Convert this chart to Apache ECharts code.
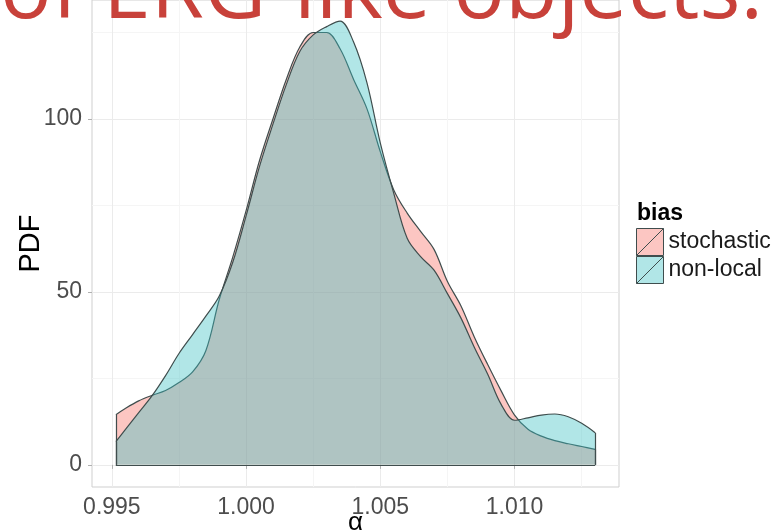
<!DOCTYPE html>
<html><head><meta charset="utf-8">
<script src="https://cdn.jsdelivr.net/npm/echarts@6/dist/echarts.min.js"></script>
<style>html,body{margin:0;padding:0;background:#fff}#c{width:775px;height:531px}</style>
</head><body><div id="c"></div>
<script>
// ---- data ----
const alphaValues = [0.99515, 0.9955, 0.9960, 0.9965, 0.9970, 0.9975, 0.9980, 0.9985, 0.9990, 0.9995,
  1.0000, 1.0005, 1.0010, 1.0015, 1.0020, 1.0025, 1.0030, 1.0035, 1.0040, 1.0045,
  1.0050, 1.0055, 1.0060, 1.0065, 1.0070, 1.0075, 1.0080, 1.0085, 1.0090, 1.0095,
  1.0100, 1.0105, 1.0110, 1.0115, 1.0120, 1.0125, 1.0130];
const stochastic = [14.5, 16.3, 18.5, 20.1, 21.5, 23.8, 26.8, 33, 47.8, 60,
  73.5, 88, 100, 111.5, 120.8, 125, 125, 120.3, 111.5, 103,
  90.5, 79.5, 72.8, 67.5, 62.3, 53, 46, 37, 29, 21.4,
  14.4, 10.3, 8.3, 7.0, 6.1, 5.3, 4.5];
const nonLocal = [6.7, 10.2, 15.1, 20, 25.8, 32.2, 37.6, 43, 48.8, 58.5,
  72, 86.3, 98.5, 110, 119.5, 124.3, 126.7, 128.3, 122.3, 110.5,
  93, 78.5, 65.5, 60.2, 56.3, 49.5, 42.5, 34, 26.2, 17.5,
  12.9, 13.6, 14.4, 14.7, 13.9, 12, 9.3];
const seriesNames = ['stochastic', 'non-local'];
const xTickValues = [0.995, 1.000, 1.005, 1.010];
const xMinorValues = [0.9975, 1.0025, 1.0075, 1.0125];
const yTickValues = [0, 50, 100];
const yMinorValues = [25, 75, 125];
const legendTitle = 'bias';
const xTitle = 'α';
const yTitle = 'PDF';
const slideTitle = 'of ERG-like objects.';

// ---- styling ----
const OUT = '#3f4d4d';
const FILLS = ['rgba(248,118,109,0.42)', 'rgba(60,192,195,0.40)'];
const FONT = 'Liberation Sans';
const XMIN = 0.99426, XMAX = 1.01389, YMIN = -6.4, YMAX = 134.4;

function pairs(ys) { return alphaValues.map((x, i) => [x, ys[i]]); }
function edges(ys) {
  const n = ys.length, a = alphaValues[0], b = alphaValues[n - 1];
  return [
    [{ coord: [a, 0] }, { coord: [a, ys[0]] }],
    [{ coord: [a, 0] }, { coord: [b, 0] }],
    [{ coord: [b, 0] }, { coord: [b, ys[n - 1]] }]
  ];
}
function densitySeries(name, ys, fill, z) {
  return {
    type: 'line', name: name, data: pairs(ys), smooth: 0.35, symbol: 'none', z: z,
    xAxisIndex: 0, yAxisIndex: 0,
    lineStyle: { color: OUT, width: 1.2 },
    itemStyle: { color: fill, borderColor: OUT },
    areaStyle: { color: fill, opacity: 1, origin: 'auto' },
    markLine: { silent: true, symbol: 'none', label: { show: false },
      lineStyle: { color: OUT, width: 1.2, type: 'solid' }, data: edges(ys) }
  };
}
const ICON = 'path://M0,0L20,0L20,20L0,20Z M0,20L20,0';

const chart = echarts.init(document.getElementById('c'), null, { renderer: 'canvas' });
chart.setOption({
  animation: false,
  backgroundColor: '#ffffff',
  grid: { left: 92, right: 156, top: 0, bottom: 44, outerBoundsMode: 'none', containLabel: false,
    show: true, borderColor: '#cfcfcf', borderWidth: 1, backgroundColor: 'transparent' },
  xAxis: [{
    type: 'value', min: XMIN, max: XMAX, gridIndex: 0,
    name: xTitle, nameLocation: 'middle', nameGap: 23, nameMoveOverlap: false,
    nameTextStyle: { fontFamily: FONT, fontSize: 26, color: '#000' },
    axisLine: { show: false },
    axisTick: { show: true, length: 4, lineStyle: { color: '#b0b0b0' }, customValues: xTickValues },
    axisLabel: { customValues: xTickValues, fontFamily: FONT, fontSize: 23, color: '#4d4d4d', margin: 9,
      formatter: v => v.toFixed(3) },
    splitLine: { show: true, lineStyle: { color: '#ebebeb', width: 1 } }
  }, {
    type: 'value', min: XMIN, max: XMAX, gridIndex: 0, position: 'bottom',
    axisLine: { show: false }, axisLabel: { show: false },
    axisTick: { show: false, customValues: xMinorValues },
    splitLine: { show: true, lineStyle: { color: '#f5f5f5', width: 1 } }
  }],
  yAxis: [{
    type: 'value', min: YMIN, max: YMAX, gridIndex: 0,
    name: yTitle, nameLocation: 'middle', nameGap: 47, nameRotate: 90, nameMoveOverlap: false,
    nameTextStyle: { fontFamily: FONT, fontSize: 29, color: '#000' },
    axisLine: { show: false },
    axisTick: { show: true, length: 4, lineStyle: { color: '#b0b0b0' }, customValues: yTickValues },
    axisLabel: { customValues: yTickValues, fontFamily: FONT, fontSize: 23, color: '#4d4d4d', margin: 10 },
    splitLine: { show: true, lineStyle: { color: '#ebebeb', width: 1 } }
  }, {
    type: 'value', min: YMIN, max: YMAX, gridIndex: 0, position: 'left',
    axisLine: { show: false }, axisLabel: { show: false },
    axisTick: { show: false, customValues: yMinorValues },
    splitLine: { show: true, lineStyle: { color: '#f5f5f5', width: 1 } }
  }],
  legend: {
    orient: 'vertical', left: 636, top: 228, padding: 0, itemGap: 0, itemWidth: 27, itemHeight: 27,
    selectedMode: false,
    textStyle: { fontFamily: FONT, fontSize: 23, color: '#1a1a1a', lineHeight: 27 },
    data: seriesNames.map((n, i) => ({ name: n, icon: ICON,
      itemStyle: { color: FILLS[i], borderColor: OUT, borderWidth: 1 } }))
  },
  graphic: [
    { type: 'text', left: 637, top: 202, z: 100,
      style: { text: legendTitle, fontFamily: FONT, fontSize: 23, fontWeight: 'bold', fill: '#000' } },
    { type: 'text', x: 0, y: -7, z: 100,
      style: { text: slideTitle, fontFamily: 'Open Sans', fontSize: 86, fill: '#c8413a', verticalAlign: 'middle', align: 'left' } }
  ],
  series: [
    densitySeries(seriesNames[0], stochastic, FILLS[0], 2),
    densitySeries(seriesNames[1], nonLocal, FILLS[1], 3)
  ]
});
</script>
</body></html>
